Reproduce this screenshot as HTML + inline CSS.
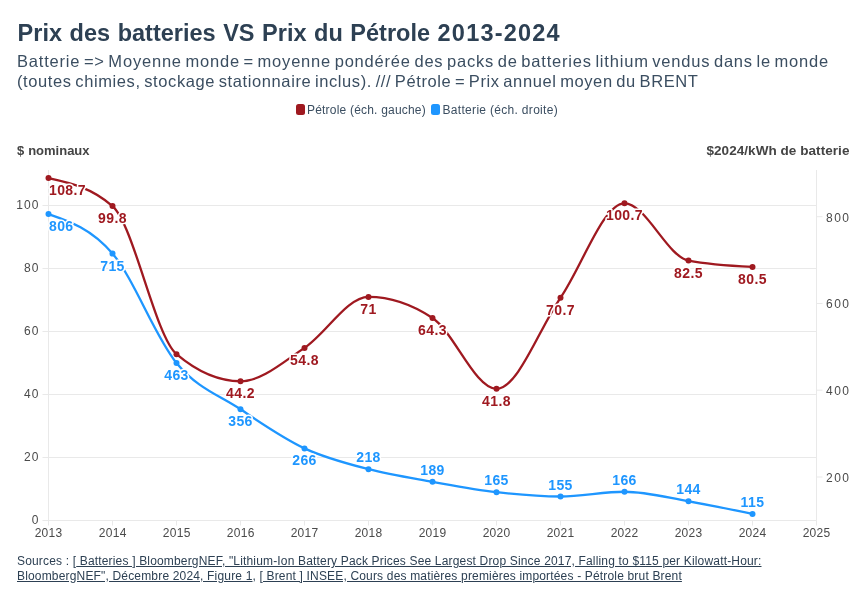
<!DOCTYPE html>
<html lang="fr"><head><meta charset="utf-8"><title>Prix des batteries VS Prix du Pétrole 2013-2024</title>
<style>
html,body{margin:0;padding:0;background:#fff}
body{width:866px;height:600px;position:relative;overflow:hidden;font-family:"Liberation Sans",sans-serif}
h1{position:absolute;left:17.6px;top:17.6px;margin:0;font-size:23.5px;line-height:30px;font-weight:700;color:#2d4053;white-space:nowrap;word-spacing:1.04px}
.sub{position:absolute;left:17px;top:51px;margin:0;font-size:16.5px;line-height:20px;color:#3b4e61;white-space:nowrap}
.legend{position:absolute;left:0;top:101px;width:866px;height:16px;font-size:12px;line-height:16px;color:#3b4e61;white-space:nowrap}
.legend span.i{position:absolute;top:1px}
.legend i{position:absolute;top:3px;width:9px;height:11px;border-radius:2.5px}
.axt{position:absolute;top:142.6px;font-size:13.5px;line-height:16px;font-weight:700;color:#444;white-space:nowrap}
.ax text.yl{letter-spacing:1.1px}
.ax text{font-size:12px;letter-spacing:0.3px;fill:#4a4a4a;font-family:"Liberation Sans",sans-serif}
.lab text{font-size:14px;letter-spacing:0.4px;font-weight:700;font-family:"Liberation Sans",sans-serif;stroke:#fff;stroke-width:3px;paint-order:stroke fill;stroke-linejoin:round}
.foot{position:absolute;left:17px;top:554px;margin:0;font-size:12px;line-height:14.7px;color:#2d4053;white-space:nowrap;letter-spacing:0.17px}
.foot a{color:#2d4053;text-decoration:underline}
</style></head><body>
<h1>Prix des batteries VS Prix du Pétrole <span style="letter-spacing:1.2px">2013-2024</span></h1>
<p class="sub"><span style="letter-spacing:0.8px;word-spacing:-1.77px">Batterie =&gt; Moyenne monde = moyenne pondérée des packs de batteries lithium vendus dans le monde</span><br><span style="letter-spacing:0.6px;word-spacing:-1.53px">(toutes chimies, stockage stationnaire inclus). /// Pétrole = Prix annuel moyen du BRENT</span></p>
<div class="legend"><i style="left:296px;background:#9f1920"></i><span class="i" style="left:307px;letter-spacing:0.2px">Pétrole (éch. gauche)</span><i style="left:431px;background:#1e96ff"></i><span class="i" style="left:442.5px;letter-spacing:0.31px">Batterie (éch. droite)</span></div>
<div class="axt" style="left:17px;font-size:13px;word-spacing:0.3px">$ nominaux</div>
<div class="axt" style="right:16.5px;letter-spacing:0.06px">$2024/kWh de batterie</div>
<svg width="866" height="600" viewBox="0 0 866 600" style="position:absolute;left:0;top:0">
<g stroke="#e9e9e9" stroke-width="1" fill="none"><line x1="42.5" x2="816.5" y1="520.5" y2="520.5"/><line x1="42.5" x2="816.5" y1="457.5" y2="457.5"/><line x1="42.5" x2="816.5" y1="394.5" y2="394.5"/><line x1="42.5" x2="816.5" y1="331.5" y2="331.5"/><line x1="42.5" x2="816.5" y1="268.5" y2="268.5"/><line x1="42.5" x2="816.5" y1="205.5" y2="205.5"/><line x1="48.5" x2="48.5" y1="520.5" y2="525.5"/><line x1="112.5" x2="112.5" y1="520.5" y2="525.5"/><line x1="176.5" x2="176.5" y1="520.5" y2="525.5"/><line x1="240.5" x2="240.5" y1="520.5" y2="525.5"/><line x1="304.5" x2="304.5" y1="520.5" y2="525.5"/><line x1="368.5" x2="368.5" y1="520.5" y2="525.5"/><line x1="432.5" x2="432.5" y1="520.5" y2="525.5"/><line x1="496.5" x2="496.5" y1="520.5" y2="525.5"/><line x1="560.5" x2="560.5" y1="520.5" y2="525.5"/><line x1="624.5" x2="624.5" y1="520.5" y2="525.5"/><line x1="688.5" x2="688.5" y1="520.5" y2="525.5"/><line x1="752.5" x2="752.5" y1="520.5" y2="525.5"/><line x1="816.5" x2="816.5" y1="520.5" y2="525.5"/><line x1="816.5" x2="822.5" y1="477.0" y2="477.0"/><line x1="816.5" x2="822.5" y1="390.2" y2="390.2"/><line x1="816.5" x2="822.5" y1="303.5" y2="303.5"/><line x1="816.5" x2="822.5" y1="216.7" y2="216.7"/><line x1="48.5" x2="48.5" y1="170" y2="520.5"/><line x1="816.5" x2="816.5" y1="170" y2="520.5"/></g>
<g class="ax"><text class="yl" x="39.6" y="524.3" text-anchor="end">0</text><text class="yl" x="39.6" y="461.3" text-anchor="end">20</text><text class="yl" x="39.6" y="398.3" text-anchor="end">40</text><text class="yl" x="39.6" y="335.3" text-anchor="end">60</text><text class="yl" x="39.6" y="272.3" text-anchor="end">80</text><text class="yl" x="39.6" y="209.3" text-anchor="end">100</text><text class="yl" x="826" y="481.8" style="letter-spacing:1.5px">200</text><text class="yl" x="826" y="395.0" style="letter-spacing:1.5px">400</text><text class="yl" x="826" y="308.3" style="letter-spacing:1.5px">600</text><text class="yl" x="826" y="221.5" style="letter-spacing:1.5px">800</text><text x="48.6" y="537" text-anchor="middle">2013</text><text x="112.7" y="537" text-anchor="middle">2014</text><text x="176.7" y="537" text-anchor="middle">2015</text><text x="240.7" y="537" text-anchor="middle">2016</text><text x="304.6" y="537" text-anchor="middle">2017</text><text x="368.6" y="537" text-anchor="middle">2018</text><text x="432.6" y="537" text-anchor="middle">2019</text><text x="496.6" y="537" text-anchor="middle">2020</text><text x="560.6" y="537" text-anchor="middle">2021</text><text x="624.6" y="537" text-anchor="middle">2022</text><text x="688.6" y="537" text-anchor="middle">2023</text><text x="752.6" y="537" text-anchor="middle">2024</text><text x="816.6" y="537" text-anchor="middle">2025</text></g>
<path d="M48.50,178.10C69.83,182.77,91.17,187.44,112.50,206.13C133.83,224.82,155.17,336.12,176.50,354.18C197.83,372.24,219.17,381.27,240.50,381.27C261.83,381.27,283.17,361.95,304.50,347.88C325.83,333.81,347.17,296.85,368.50,296.85C389.83,296.85,411.17,303.88,432.50,317.95C453.83,332.02,475.17,388.83,496.50,388.83C517.83,388.83,539.17,328.72,560.50,297.79C581.83,266.87,603.17,203.29,624.50,203.29C645.83,203.29,667.17,256.43,688.50,260.62C709.83,264.82,731.17,265.87,752.50,266.92" fill="none" stroke="#9f1920" stroke-width="2.3" stroke-linecap="round"/>
<path d="M48.50,214.10C69.83,221.44,91.17,228.78,112.50,253.58C133.83,278.38,155.17,336.94,176.50,362.90C197.83,388.86,219.17,395.08,240.50,409.32C261.83,423.57,283.17,438.39,304.50,448.37C325.83,458.35,347.17,463.62,368.50,469.19C389.83,474.76,411.17,477.94,432.50,481.77C453.83,485.60,475.17,489.73,496.50,492.18C517.83,494.64,539.17,496.52,560.50,496.52C581.83,496.52,603.17,491.75,624.50,491.75C645.83,491.75,667.17,497.61,688.50,501.29C709.83,504.98,731.17,509.43,752.50,513.88" fill="none" stroke="#1e96ff" stroke-width="2.3" stroke-linecap="round"/>
<circle cx="48.5" cy="178.1" r="3" fill="#9f1920"/>
<circle cx="112.5" cy="206.1" r="3" fill="#9f1920"/>
<circle cx="176.5" cy="354.2" r="3" fill="#9f1920"/>
<circle cx="240.5" cy="381.3" r="3" fill="#9f1920"/>
<circle cx="304.5" cy="347.9" r="3" fill="#9f1920"/>
<circle cx="368.5" cy="296.9" r="3" fill="#9f1920"/>
<circle cx="432.5" cy="318.0" r="3" fill="#9f1920"/>
<circle cx="496.5" cy="388.8" r="3" fill="#9f1920"/>
<circle cx="560.5" cy="297.8" r="3" fill="#9f1920"/>
<circle cx="624.5" cy="203.3" r="3" fill="#9f1920"/>
<circle cx="688.5" cy="260.6" r="3" fill="#9f1920"/>
<circle cx="752.5" cy="266.9" r="3" fill="#9f1920"/>
<circle cx="48.5" cy="214.1" r="3" fill="#1e96ff"/>
<circle cx="112.5" cy="253.6" r="3" fill="#1e96ff"/>
<circle cx="176.5" cy="362.9" r="3" fill="#1e96ff"/>
<circle cx="240.5" cy="409.3" r="3" fill="#1e96ff"/>
<circle cx="304.5" cy="448.4" r="3" fill="#1e96ff"/>
<circle cx="368.5" cy="469.2" r="3" fill="#1e96ff"/>
<circle cx="432.5" cy="481.8" r="3" fill="#1e96ff"/>
<circle cx="496.5" cy="492.2" r="3" fill="#1e96ff"/>
<circle cx="560.5" cy="496.5" r="3" fill="#1e96ff"/>
<circle cx="624.5" cy="491.8" r="3" fill="#1e96ff"/>
<circle cx="688.5" cy="501.3" r="3" fill="#1e96ff"/>
<circle cx="752.5" cy="513.9" r="3" fill="#1e96ff"/>
<g class="lab"><text x="49.0" y="195.0" text-anchor="start" fill="#9f1920">108.7</text><text x="112.5" y="223.0" text-anchor="middle" fill="#9f1920">99.8</text><text x="240.5" y="398.2" text-anchor="middle" fill="#9f1920">44.2</text><text x="304.5" y="364.8" text-anchor="middle" fill="#9f1920">54.8</text><text x="368.5" y="313.8" text-anchor="middle" fill="#9f1920">71</text><text x="432.5" y="334.9" text-anchor="middle" fill="#9f1920">64.3</text><text x="496.5" y="405.7" text-anchor="middle" fill="#9f1920">41.8</text><text x="560.5" y="314.7" text-anchor="middle" fill="#9f1920">70.7</text><text x="624.5" y="220.2" text-anchor="middle" fill="#9f1920">100.7</text><text x="688.5" y="277.5" text-anchor="middle" fill="#9f1920">82.5</text><text x="752.5" y="283.8" text-anchor="middle" fill="#9f1920">80.5</text><text x="49.0" y="231.0" text-anchor="start" fill="#1e96ff">806</text><text x="112.5" y="270.5" text-anchor="middle" fill="#1e96ff">715</text><text x="176.5" y="379.8" text-anchor="middle" fill="#1e96ff">463</text><text x="240.5" y="426.2" text-anchor="middle" fill="#1e96ff">356</text><text x="304.5" y="465.3" text-anchor="middle" fill="#1e96ff">266</text><text x="368.5" y="462.2" text-anchor="middle" fill="#1e96ff">218</text><text x="432.5" y="474.8" text-anchor="middle" fill="#1e96ff">189</text><text x="496.5" y="485.2" text-anchor="middle" fill="#1e96ff">165</text><text x="560.5" y="489.5" text-anchor="middle" fill="#1e96ff">155</text><text x="624.5" y="484.8" text-anchor="middle" fill="#1e96ff">166</text><text x="688.5" y="494.3" text-anchor="middle" fill="#1e96ff">144</text><text x="752.5" y="506.9" text-anchor="middle" fill="#1e96ff">115</text></g>
</svg>
<p class="foot">Sources : [<a> Batteries ] BloombergNEF, "Lithium-Ion Battery Pack Prices See Largest Drop Since 2017, Falling to $115 per Kilowatt-Hour:<br>BloombergNEF", Décembre 2024, Figure 1</a>, [<a> Brent ] INSEE, Cours des matières premières importées - Pétrole brut Brent</a></p>
</body></html>
